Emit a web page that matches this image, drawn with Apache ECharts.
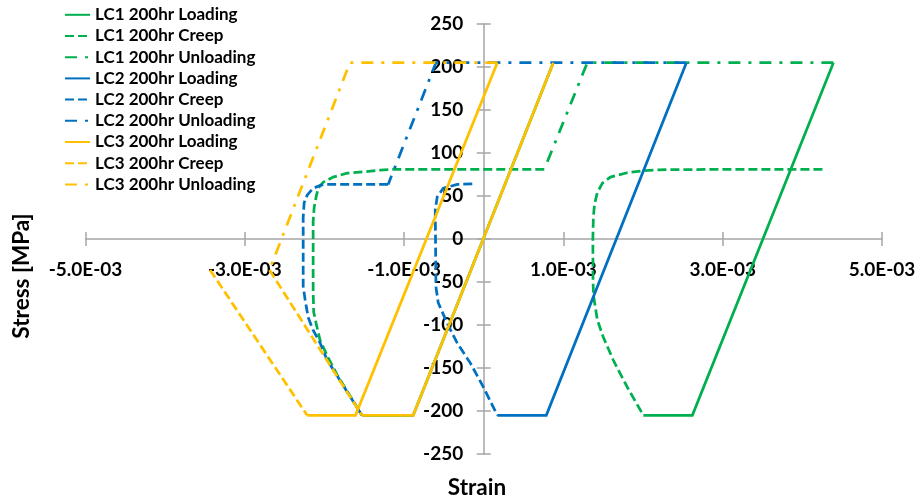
<!DOCTYPE html>
<html>
<head>
<meta charset="utf-8">
<title>Stress-strain history, 200 hr load cases</title>
<script src="https://cdn.jsdelivr.net/npm/echarts@6/dist/echarts.min.js"></script>
<style>
  html, body { margin: 0; padding: 0; background: #ffffff; }
  #chart { width: 918px; height: 501px; }
</style>
</head>
<body>
<div id="chart"></div>
<script>
// Break marker between separate segments of one series
const GAP = ['-', '-'];

// Strain [-] / stress [MPa] pairs for each load case
const LC1_LOADING = [
  [-1.53e-3, -205], [-0.886e-3, -205], [0.873e-3, 205], GAP,
  [2.004e-3, -205], [2.619e-3, -205], [4.39e-3, 205]
];
const LC1_CREEP = [
  [4.252e-3, 81], [3.0e-3, 81], [2.2e-3, 80.5], [2.004e-3, 79.5], [1.80e-3, 77],
  [1.59e-3, 72], [1.49e-3, 65], [1.426e-3, 54], [1.39e-3, 40], [1.376e-3, 25],
  [1.37e-3, 0], [1.372e-3, -50], [1.38e-3, -67], [1.426e-3, -94], [1.50e-3, -114],
  [1.627e-3, -141], [1.80e-3, -172], [2.004e-3, -205], GAP,
  [0.76e-3, 81], [-1.137e-3, 81], [-1.30e-3, 80], [-1.514e-3, 78], [-1.715e-3, 76.5],
  [-1.89e-3, 72], [-2.016e-3, 66], [-2.079e-3, 59], [-2.104e-3, 49], [-2.129e-3, 37],
  [-2.142e-3, 20], [-2.142e-3, -60], [-2.135e-3, -85], [-2.10e-3, -100],
  [-2.054e-3, -118], [-1.954e-3, -138], [-1.84e-3, -158], [-1.53e-3, -205]
];
const LC1_UNLOADING = [[4.39e-3, 205], [1.30e-3, 205], [0.76e-3, 81]];

const LC2_LOADING = [[0.17e-3, -205], [0.785e-3, -205], [2.544e-3, 205]];
const LC2_CREEP = [
  [-0.144e-3, 64], [-0.333e-3, 63.5], [-0.509e-3, 59], [-0.584e-3, 49], [-0.609e-3, 34],
  [-0.60e-3, -56], [-0.572e-3, -74], [-0.459e-3, -98], [-0.333e-3, -121],
  [-0.17e-3, -144], [-0.006e-3, -172], [0.17e-3, -205], GAP,
  [-1.20e-3, 63.5], [-2.016e-3, 63.5], [-2.142e-3, 59], [-2.217e-3, 51],
  [-2.255e-3, 42], [-2.267e-3, 25], [-2.267e-3, -55], [-2.242e-3, -71],
  [-2.205e-3, -91], [-2.142e-3, -106], [-2.054e-3, -121], [-1.97e-3, -140],
  [-1.53e-3, -205]
];
const LC2_UNLOADING = [[2.544e-3, 205], [-0.60e-3, 205], [-1.20e-3, 63.5]];

const LC3_LOADING = [
  [-2.217e-3, -205], [-1.61e-3, -205], [0.17e-3, 205], GAP,
  [-1.53e-3, -205], [-0.886e-3, -205], [0.873e-3, 205]
];
const LC3_CREEP = [
  [-3.436e-3, -36], [-2.217e-3, -205], GAP,
  [-2.69e-3, -36], [-1.53e-3, -205]
];
const LC3_UNLOADING = [[0.17e-3, 205], [-1.68e-3, 205], [-2.69e-3, -36]];

// Axis ranges and tick steps
const STRAIN_MIN = -5e-3, STRAIN_MAX = 5e-3, STRAIN_STEP = 2e-3;
const STRESS_MIN = -250, STRESS_MAX = 250, STRESS_STEP = 50;

const COLORS = { LC1: '#00B050', LC2: '#0070C0', LC3: '#FFC000' };
const FONT = 'Lato, "Open Sans", sans-serif';
const AXIS_GREY = '#a6a6a6';
const LINE_W = 2.75;
const DASH_CREEP = [9, 4];
const DASH_UNLOAD = [12, 8, 3, 8];

// Plot area in pixels; the axes cross at the middle of it
const GRID = { left: 85.5, right: 36, top: 24, bottom: 47 };
const X_AXIS_SHIFT = -(501 - GRID.top - GRID.bottom) / 2;   // bottom edge -> stress 0
const Y_AXIS_SHIFT = -(918 - GRID.left - GRID.right) / 2;   // left edge -> strain 0

function sci(v) {
  // e.g. -0.003 -> "-3.0E-03"
  const s = Number(v).toExponential(1);
  const parts = s.split('e');
  const neg = parts[1][0] === '-';
  const digits = parts[1].replace(/[+-]/, '').padStart(2, '0');
  return parts[0] + 'E' + (neg ? '-' : '+') + digits;
}

function lineSeries(name, data, color, dash) {
  return {
    name: name,
    type: 'line',
    data: data,
    xAxisIndex: 0,
    yAxisIndex: 0,
    showSymbol: false,
    symbol: 'none',
    connectNulls: false,
    animation: false,
    silent: true,
    lineStyle: { color: color, width: LINE_W, type: dash || 'solid', cap: 'butt', join: 'miter' },
    itemStyle: { color: color }
  };
}

const series = [
  lineSeries('LC1 200hr Loading', LC1_LOADING, COLORS.LC1),
  lineSeries('LC1 200hr Creep', LC1_CREEP, COLORS.LC1, DASH_CREEP),
  lineSeries('LC1 200hr Unloading', LC1_UNLOADING, COLORS.LC1, DASH_UNLOAD),
  lineSeries('LC2 200hr Loading', LC2_LOADING, COLORS.LC2),
  lineSeries('LC2 200hr Creep', LC2_CREEP, COLORS.LC2, DASH_CREEP),
  lineSeries('LC2 200hr Unloading', LC2_UNLOADING, COLORS.LC2, DASH_UNLOAD),
  lineSeries('LC3 200hr Loading', LC3_LOADING, COLORS.LC3),
  lineSeries('LC3 200hr Creep', LC3_CREEP, COLORS.LC3, DASH_CREEP),
  lineSeries('LC3 200hr Unloading', LC3_UNLOADING, COLORS.LC3, DASH_UNLOAD)
];

const labelText = { fontFamily: FONT, fontWeight: 'bold', fontSize: 19, color: '#000' };
const tickStyle = { color: AXIS_GREY, width: 1.5 };

function valueAxis(min, max, step, position, shift, extra) {
  return Object.assign({
    type: 'value', position: position, offset: shift,
    min: min, max: max, interval: step,
    axisLine: { show: false, onZero: false },
    axisTick: { show: true, inside: true, length: 7, lineStyle: tickStyle },
    axisLabel: { show: false },
    splitLine: { show: false }
  }, extra || {});
}

const chart = echarts.init(document.getElementById('chart'), null, { renderer: 'canvas' });
chart.setOption({
  animation: false,
  backgroundColor: '#ffffff',
  grid: Object.assign({ containLabel: false, outerBoundsMode: 'none' }, GRID),
  legend: {
    orient: 'vertical',
    left: 64,
    top: 6.3,
    padding: 0,
    itemWidth: 25,
    itemHeight: 14,
    itemGap: 4.2,
    selectedMode: false,
    itemStyle: { opacity: 0 },
    textStyle: { fontFamily: FONT, fontWeight: 'bold', fontSize: 17, color: '#000' },
    data: series.map(s => s.name)
  },
  xAxis: [
    valueAxis(STRAIN_MIN, STRAIN_MAX, STRAIN_STEP, 'bottom', X_AXIS_SHIFT, {
      axisLine: { show: true, onZero: false, lineStyle: { color: AXIS_GREY, width: 1.5 } },
      axisTick: { show: true, inside: false, length: 7, lineStyle: tickStyle },
      axisLabel: Object.assign({ margin: 21, formatter: sci, showMinLabel: true, showMaxLabel: true }, labelText)
    }),
    valueAxis(STRAIN_MIN, STRAIN_MAX, STRAIN_STEP, 'bottom', X_AXIS_SHIFT)
  ],
  yAxis: [
    valueAxis(STRESS_MIN, STRESS_MAX, STRESS_STEP, 'left', Y_AXIS_SHIFT, {
      axisLine: { show: true, onZero: false, lineStyle: { color: AXIS_GREY, width: 1.5 } },
      axisTick: { show: true, inside: false, length: 7, lineStyle: tickStyle },
      axisLabel: Object.assign({ margin: 20.5, showMinLabel: true, showMaxLabel: true }, labelText)
    }),
    valueAxis(STRESS_MIN, STRESS_MAX, STRESS_STEP, 'left', Y_AXIS_SHIFT)
  ],
  graphic: [
    {
      type: 'text', x: 22, y: 276, rotation: Math.PI / 2, silent: true,
      style: { text: 'Stress [MPa]', fontFamily: FONT, fontWeight: 'bold', fontSize: 22.5,
               fill: '#000', align: 'center', verticalAlign: 'middle' }
    },
    {
      type: 'text', x: 477, y: 488, silent: true,
      style: { text: 'Strain', fontFamily: FONT, fontWeight: 'bold', fontSize: 22.5,
               fill: '#000', align: 'center', verticalAlign: 'middle' }
    }
  ],
  series: series
});
</script>
</body>
</html>
